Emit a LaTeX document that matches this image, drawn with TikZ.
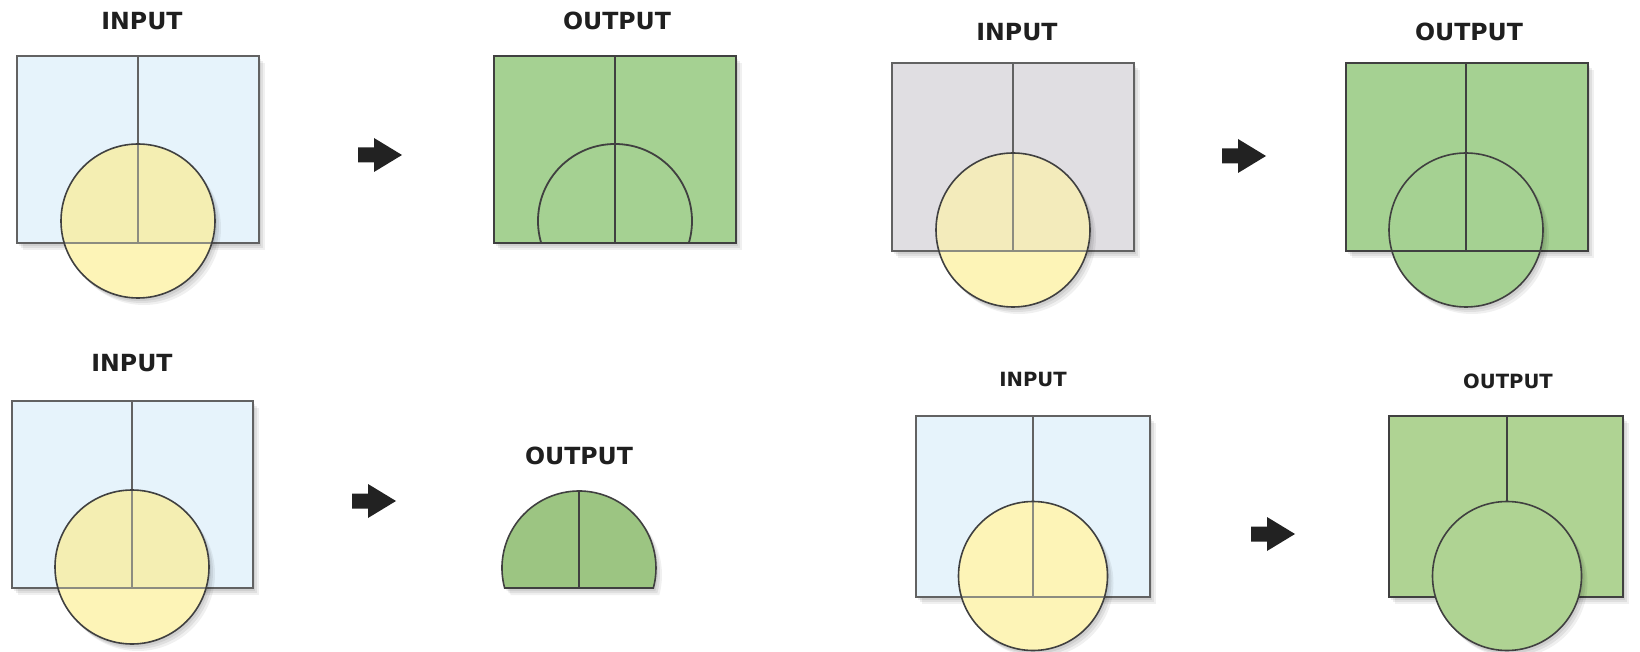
\documentclass[tikz,border=0pt]{standalone}
\usepackage{fontspec}
\setmainfont{DejaVu Sans}
\definecolor{blueF}{HTML}{E6F3FB}
\definecolor{grayF}{HTML}{E0DEE2}
\definecolor{yelF}{HTML}{FDF4B7}
\definecolor{yelOverB}{HTML}{F4EEB2}
\definecolor{yelOverG}{HTML}{F3EBBB}
\definecolor{greenF}{HTML}{A5D192}
\definecolor{greenD}{HTML}{9CC582}
\definecolor{greenL}{HTML}{AFD393}
\definecolor{edgeGray}{HTML}{626262}
\definecolor{edgeDark}{HTML}{404040}
\definecolor{innerGray}{HTML}{8C8C80}
\definecolor{arrowC}{HTML}{222222}
\tikzset{
  shad/.style={
    preaction={fill=black,opacity=0.07,transform canvas={shift={(1pt,-1.5pt)}}},
    preaction={fill=black,opacity=0.07,transform canvas={shift={(2pt,-2.5pt)}}},
    preaction={fill=black,opacity=0.06,transform canvas={shift={(3pt,-3.5pt)}}}},
  edgeR/.style={draw=edgeGray,line width=1.1pt},
  edgeO/.style={draw=edgeDark,line width=1.1pt},
  edgeC/.style={draw=edgeDark,line width=0.8pt},
  inl/.style={draw=innerGray,line width=1.3pt},
  outl/.style={draw=edgeDark,line width=0.9pt},
  lab/.style={font=\bfseries\fontsize{11.8}{14}\selectfont,text=black!88,inner sep=0pt},
  labs/.style={font=\bfseries\fontsize{9.8}{12}\selectfont,text=black!88,inner sep=0pt},
  blockarrow/.pic={\fill[arrowC] (0,-7.5)--(16,-7.5)--(16,-17)--(44,0)--(16,17)--(16,7.5)--(0,7.5)--cycle;}
}
% #1 x1, #2 y1, #3 x2, #4 y2, #5 cx, #6 cy, #7 r, #8 rect fill, #9 fill of circle inside rect
\newcommand{\inpanel}[9]{%
  \path[shad,fill=#8] (#1,#2) rectangle (#3,#4);
  \draw[edgeR] (#5,#2) -- (#5,#4);
  \draw[edgeR] (#1,#2) rectangle (#3,#4);
  \path[shad,fill=yelF] (#5,#6) circle[radius=#7];
  \begin{scope}\clip (#1,#2) rectangle (#3,#4);
    \fill[#9] (#5,#6) circle[radius=#7];\end{scope}
  \begin{scope}\clip (#5,#6) circle[radius=#7];
    \draw[inl] (#5,#2) -- (#5,#4) (#1,#4) -- (#3,#4);\end{scope}
  \draw[edgeC] (#5,#6) circle[radius=#7];
}
\begin{document}
\begin{tikzpicture}[x=0.5pt,y=-0.5pt]
\useasboundingbox[fill=white] (0,0) rectangle (1640,652);

% ---------- Panel 1: input ----------
\node[lab] (in1) at (142,21) {INPUT};
\inpanel{17}{56}{259}{243}{138}{221}{77}{blueF}{yelOverB}
\pic (ar1) at (358,155) {blockarrow};

% ---------- Panel 2: output ----------
\node[lab] (out1) at (617,21) {OUTPUT};
\path[shad,fill=greenF] (494,56) rectangle (736,243);
\begin{scope}\clip (494,56) rectangle (736,243);
  \draw[outl] (615,221) circle[radius=77];\end{scope}
\draw[outl] (615,56) -- (615,243);
\draw[edgeO] (494,56) rectangle (736,243);

% ---------- Panel 3: input ----------
\node[lab] (in2) at (1017,32) {INPUT};
\inpanel{892}{63}{1134}{251}{1013}{230}{77}{grayF}{yelOverG}
\pic (ar2) at (1222,156) {blockarrow};

% ---------- Panel 4: output ----------
\node[lab] (out2) at (1469,32) {OUTPUT};
\path[shad,fill=greenF] (1346,63) rectangle (1588,251);
\draw[edgeO] (1346,63) rectangle (1588,251);
\path[shad,fill=greenF] (1466,230) circle[radius=77];
\draw[outl] (1466,63) -- (1466,251);
\begin{scope}\clip (1466,230) circle[radius=77];
  \draw[outl] (1346,251) -- (1588,251);\end{scope}
\draw[edgeC] (1466,230) circle[radius=77];

% ---------- Panel 5: input ----------
\node[lab] (in3) at (132,363) {INPUT};
\inpanel{12}{401}{253}{588}{132}{567}{77}{blueF}{yelOverB}
\pic (ar3) at (352,501) {blockarrow};

% ---------- Panel 6: output ----------
\node[lab] (out3) at (579,456) {OUTPUT};
\path[shad,fill=greenD] (504.64,588) arc[start angle=164.95,end angle=375.05,radius=77] -- cycle;
\draw[outl] (579,491) -- (579,588);
\draw[edgeC] (504.64,588) arc[start angle=164.95,end angle=375.05,radius=77] -- cycle;

% ---------- Panel 7: input ----------
\node[labs] (in4) at (1033,379) {INPUT};
\inpanel{916}{416}{1150}{597}{1033}{576}{74.5}{blueF}{yelF}
\pic (ar4) at (1251,534) {blockarrow};

% ---------- Panel 8: output ----------
\node[labs] (out4) at (1508,381) {OUTPUT};
\path[shad,fill=greenL] (1389,416) rectangle (1623,597);
\draw[edgeO] (1389,416) rectangle (1623,597);
\draw[outl] (1507,416) -- (1507,502);
\path[shad,fill=greenL] (1507,576) circle[radius=74.5];
\draw[edgeC] (1507,576) circle[radius=74.5];
\end{tikzpicture}
\end{document}
